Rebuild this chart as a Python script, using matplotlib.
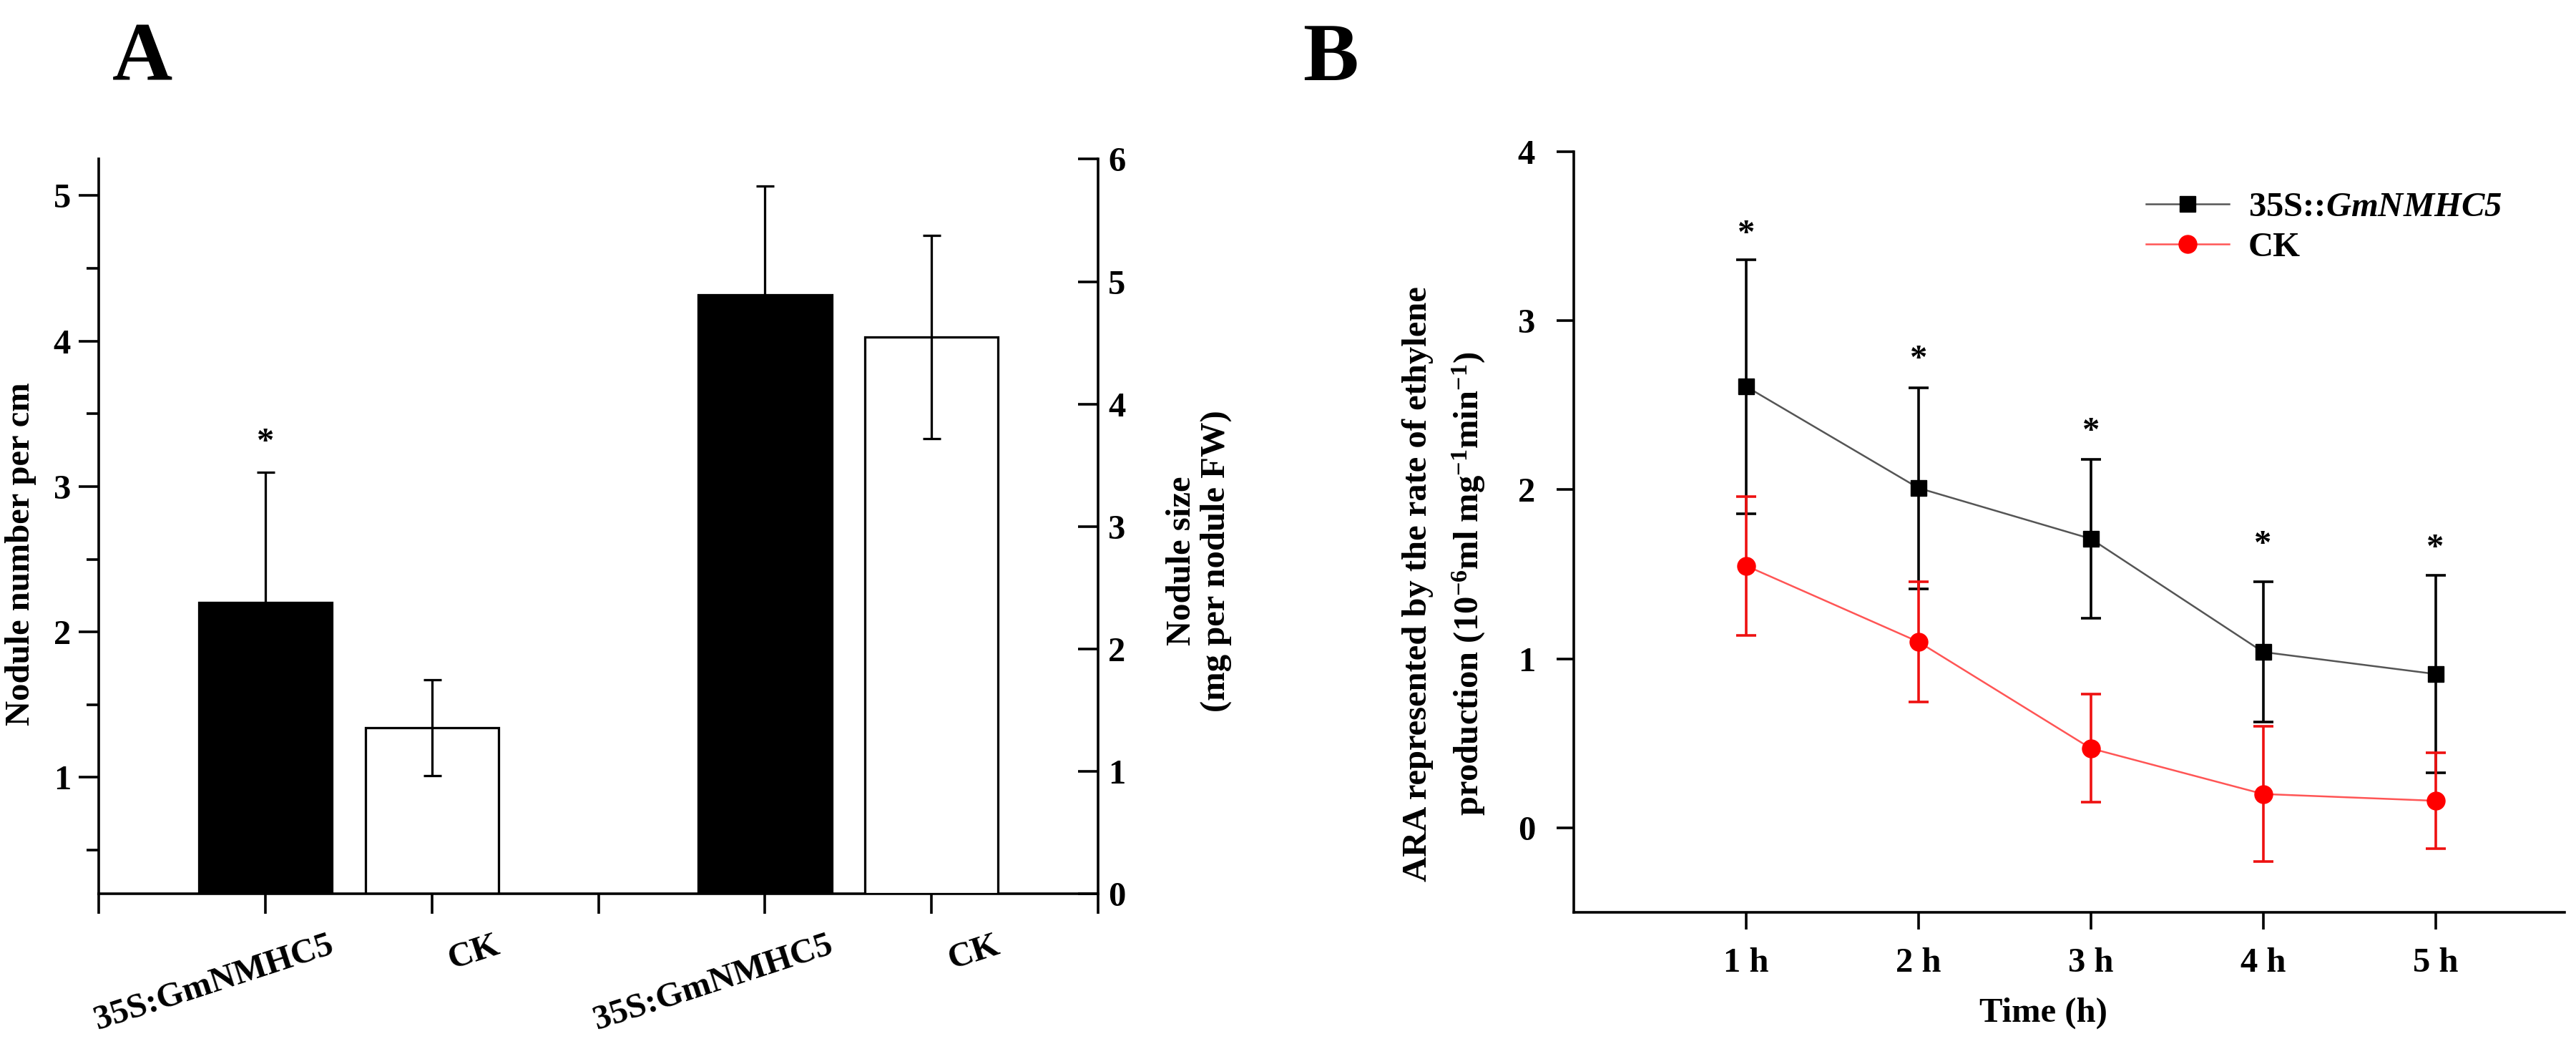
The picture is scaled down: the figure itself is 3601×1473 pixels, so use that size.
import matplotlib
matplotlib.use("Agg")
import matplotlib.pyplot as plt
import matplotlib.transforms as mtrans
from matplotlib.lines import Line2D
import numpy as np

plt.rcParams['font.family'] = ['Liberation Serif', 'DejaVu Serif']
plt.rcParams['font.weight'] = 'bold'
plt.rcParams['mathtext.fontset'] = 'custom'
plt.rcParams['mathtext.rm'] = 'Liberation Serif:bold'
plt.rcParams['mathtext.it'] = 'Liberation Serif:italic:bold'
plt.rcParams['mathtext.bf'] = 'Liberation Serif:italic:bold'

# ---------------- Data: panel A ----------------
a_categories = ["35S:GmNMHC5", "CK", "35S:GmNMHC5", "CK"]
a_positions = [1, 2, 4, 5]
nodule_number = [2.20, 1.34]          # left axis
nodule_number_err = [0.90, 0.33]
nodule_size = [4.89, 4.55]            # right axis
nodule_size_err = [0.89, 0.83]
a_star_height = [3.30]                # star above first bar (left axis)

# ---------------- Data: panel B ----------------
time_labels = ["1 h", "2 h", "3 h", "4 h", "5 h"]
time_x = [1, 2, 3, 4, 5]
ara_oe = [2.61, 2.01, 1.71, 1.04, 0.91]
ara_oe_err = [0.75, 0.595, 0.47, 0.415, 0.585]
ara_ck = [1.55, 1.10, 0.47, 0.20, 0.16]
ara_ck_err = [0.41, 0.355, 0.32, 0.40, 0.285]
b_star_height = [3.51, 2.77, 2.34, 1.67, 1.65]

FS = 35
LW = 2.6

fig = plt.figure(figsize=(36.01, 14.73), dpi=100)

# ================= Panel A =================
axA = fig.add_axes([0.0383, 0.152, 0.388, 0.697])
axA2 = axA.twinx()

bar_w = 0.8
colors = ['black', 'white']
for i in range(2):
    axA.bar(a_positions[i], nodule_number[i], width=bar_w, bottom=0,
            color=colors[i], edgecolor='black', linewidth=LW * 0.9, zorder=2)
    axA.errorbar(a_positions[i], nodule_number[i], yerr=nodule_number_err[i],
                 fmt='none', ecolor='black', elinewidth=LW * 0.9, capsize=9,
                 capthick=LW * 0.9, zorder=3)
    axA2.bar(a_positions[i + 2], nodule_size[i], width=bar_w, bottom=0,
             color=colors[i], edgecolor='black', linewidth=LW * 0.9, zorder=2)
    axA2.errorbar(a_positions[i + 2], nodule_size[i], yerr=nodule_size_err[i],
                  fmt='none', ecolor='black', elinewidth=LW * 0.9, capsize=9,
                  capthick=LW * 0.9, zorder=3)

axA.text(a_positions[0], a_star_height[0], '*', ha='center', va='center',
         fontsize=FS, fontweight='bold')

axA.set_xlim(0, 6)
axA.set_ylim(0.2, 5.25)
axA2.set_ylim(0, 6)

axA.set_xticks(range(0, 7))
axA.set_xticklabels(['', a_categories[0], a_categories[1], '',
                     a_categories[2], a_categories[3], ''])
axA.set_yticks([1, 2, 3, 4, 5])
axA.set_yticks(np.arange(0.5, 5.1, 1.0), minor=True)
axA2.set_yticks([0, 1, 2, 3, 4, 5, 6])

axA.spines['top'].set_visible(False)
axA2.spines['top'].set_visible(False)
axA.spines['right'].set_visible(False)
for sp in ['left', 'bottom']:
    axA.spines[sp].set_linewidth(LW)
axA2.spines['right'].set_linewidth(LW)
axA2.spines['left'].set_visible(False)
axA2.spines['bottom'].set_visible(False)

axA.tick_params(axis='y', which='major', direction='out', length=20, width=LW,
                labelsize=FS, pad=8)
axA.tick_params(axis='y', which='minor', direction='out', length=12, width=LW)
axA.tick_params(axis='x', which='major', direction='out', length=20, width=LW,
                labelsize=FS, pad=16)
axA2.tick_params(axis='y', which='major', direction='in', length=20, width=LW,
                 labelsize=FS, pad=10)

offset = mtrans.ScaledTranslation(0.87, 0, fig.dpi_scale_trans)
for lab in axA.get_xticklabels():
    lab.set_rotation(18)
    lab.set_ha('right')
    lab.set_va('top')
    lab.set_rotation_mode('anchor')
    lab.set_transform(lab.get_transform() + offset)

axA.set_ylabel('Nodule number per cm', fontsize=FS, fontweight='bold',
               va='center', ha='center')
axA.yaxis.set_label_coords(-0.078, 0.4625)
axA2.set_ylabel('Nodule size\n(mg per nodule FW)', fontsize=FS,
                fontweight='bold', va='center', ha='center', rotation=90,
                linespacing=1.1)
axA2.yaxis.set_label_coords(1.101, 0.453)

fig.text(0.0553, 0.943, 'A', fontsize=84, fontweight='bold',
         ha='center', va='center')

# ================= Panel B =================
axB = fig.add_axes([0.611, 0.1344, 0.3846, 0.7217])

axB.errorbar(time_x, ara_oe, yerr=ara_oe_err, fmt='none', ecolor='black',
             elinewidth=LW, capsize=10, capthick=LW, zorder=3)
axB.errorbar(time_x, ara_ck, yerr=ara_ck_err, fmt='none', ecolor='#ee1111',
             elinewidth=LW, capsize=10, capthick=LW, zorder=3)
axB.plot(time_x, ara_oe, color='#555555', linewidth=1.8, marker='s',
         markersize=16, markerfacecolor='black', markeredgecolor='black',
         zorder=4)
axB.plot(time_x, ara_ck, color='#ff5555', linewidth=1.8, marker='o',
         markersize=18, markerfacecolor='#ff0000', markeredgecolor='#ff0000',
         zorder=4)
for x, h in zip(time_x, b_star_height):
    axB.text(x, h, '*', ha='center', va='center', fontsize=FS,
             fontweight='bold')

axB.set_xlim(0, 5.75)
axB.set_ylim(-0.5, 4.0)
axB.set_xticks(time_x)
axB.set_xticklabels(time_labels)
axB.set_yticks([0, 1, 2, 3, 4])
axB.spines['top'].set_visible(False)
axB.spines['right'].set_visible(False)
for sp in ['left', 'bottom']:
    axB.spines[sp].set_linewidth(LW)
axB.tick_params(axis='both', direction='out', length=17, width=LW,
                labelsize=FS)
axB.tick_params(axis='y', pad=22)
axB.tick_params(axis='x', pad=18)

axB.set_xlabel('Time (h)', fontsize=FS, fontweight='bold', va='center',
               ha='center')
axB.xaxis.set_label_coords(0.4736, -0.1326)
axB.set_ylabel('ARA represented by the rate of ethylene\n'
               'production (10$^{-6}$ml mg$^{-1}$min$^{-1}$)',
               fontsize=FS, fontweight='bold', va='center', ha='center',
               linespacing=1.6)
axB.yaxis.set_label_coords(-0.1307, 0.432)

handles = [
    Line2D([], [], color='#555555', linewidth=1.8, marker='s', markersize=16,
           markerfacecolor='black', markeredgecolor='black'),
    Line2D([], [], color='#ff5555', linewidth=1.8, marker='o', markersize=18,
           markerfacecolor='#ff0000', markeredgecolor='#ff0000'),
]
fig.legend(handles, ['35S::$\\mathbf{GmNMHC5}$', 'CK'], loc='upper left',
           bbox_to_anchor=(0.833, 0.818), frameon=False, fontsize=FS,
           handlelength=2.4, handletextpad=0.55, labelspacing=0.25,
           borderpad=0, borderaxespad=0)

fig.text(0.5166, 0.943, 'B', fontsize=84, fontweight='bold',
         ha='center', va='center')

fig.savefig('out.png', dpi=100, facecolor='white')
